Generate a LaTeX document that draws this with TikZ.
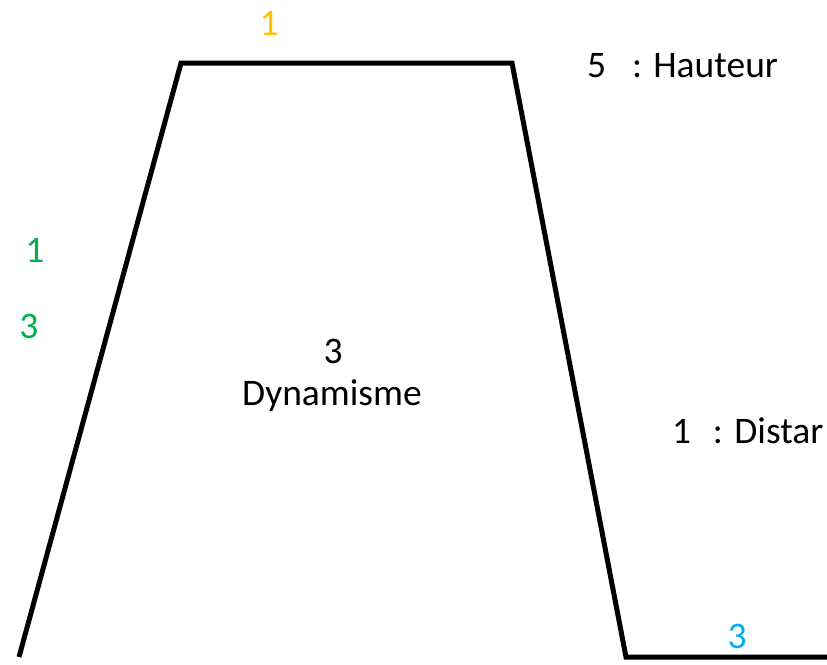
\documentclass[tikz,border=0pt]{standalone}
\usepackage{fontspec}
\setmainfont{Carlito}
\definecolor{orangeT}{HTML}{FFC000}
\definecolor{greenT}{HTML}{00B050}
\definecolor{blueT}{HTML}{00B0F0}
\begin{document}
\begin{tikzpicture}[x=1pt,y=-1pt,
  lbl/.style={inner sep=0pt,outer sep=0pt,anchor=base,font=\fontsize{37.5}{44}\selectfont},
  lblw/.style={lbl,anchor=base west},
  outline/.style={line width=5pt,black,line join=miter}]
\useasboundingbox (0,0) rectangle (827,664);
\clip (0,0) rectangle (827,664);
\coordinate (bl) at (19,657);
\coordinate (tl) at (181,63);
\coordinate (tr) at (512,63);
\coordinate (br) at (626,657);
\coordinate (be) at (830,657);
\draw[outline] (bl) -- (tl) -- (tr) -- (br) -- (be);
\node[lbl,text=orangeT] (top) at (269,35) {1};
\node[lbl,text=greenT] (g1) at (35,262) {1};
\node[lbl,text=greenT] (g3) at (29,338) {3};
\node[lbl] (d3) at (333,363) {3};
\node[lbl] (dyn) at (332,405) {Dynamisme};
\node[lblw] (haut) at (587,77) {5\hspace{26pt}: Hauteur};
\node[lblw] (dist) at (672,443) {1\hspace{22pt}: Distar};
\node[lbl,text=blueT] (b3) at (737,648) {3};
\end{tikzpicture}
\end{document}
